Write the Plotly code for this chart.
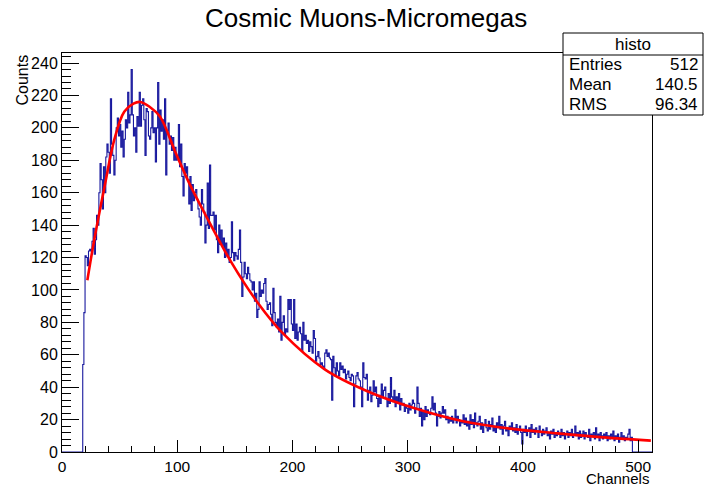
import plotly.graph_objects as go

# ---------------- data ----------------
n_bins = 512
lead_zero_bins = 18          # bins 0..17 empty
counts_18_29 = [54, 86, 121, 120, 115, 124, 125, 124, 130, 138, 122, 131]
counts_30s = [146, 140, 160, 178, 168, 150, 176, 160, 182, 190]
counts_40s = [185, 172, 218, 190, 183, 171, 180, 200, 206, 195]
counts_50s = [202, 188, 198, 182, 193, 205, 200, 222, 203, 208]
counts_60s = [236, 208, 195, 200, 185, 207, 201, 222, 201, 214]
counts_70s = [218, 205, 183, 212, 210, 195, 193, 200, 210, 197]
counts_80s = [200, 179, 200, 228, 190, 211, 198, 205, 193, 218]
counts_90s = [171, 198, 203, 190, 195, 186, 194, 180, 188, 180]
counts_100s = [182, 202, 176, 190, 170, 158, 178, 172, 176, 168]
counts_110s = [153, 170, 149, 165, 155, 160, 162, 156, 150, 145]
counts_120s = [140, 162, 153, 148, 129, 140, 166, 138, 177, 146]
counts_130s = [146, 148, 137, 146, 131, 123, 140, 128, 137, 127]
counts_140s = [132, 120, 129, 121, 125, 117, 120, 142, 123, 118]
counts_150s = [123, 121, 119, 125, 137, 117, 96, 108, 117, 110]
counts_160s = [107, 114, 110, 106, 105, 100, 105, 93, 98, 83]
counts_170s = [88, 105, 96, 100, 98, 104, 107, 93, 88, 91]
counts_180s = [92, 85, 78, 101, 86, 80, 77, 82, 74, 96]
counts_190s = [69, 80, 84, 72, 76, 74, 94, 88, 94, 79]
counts_200s = [75, 94, 70, 79, 69, 74, 77, 73, 62, 80]
counts_210s = [69, 72, 67, 69, 62, 68, 65, 61, 75, 70]
counts_220s = [56, 59, 62, 58, 54, 55, 53, 51, 61, 63]
counts_230s = [59, 61, 58, 57, 32, 59, 52, 47, 55, 50]
counts_240s = [47, 55, 51, 53, 49, 51, 45, 48, 50, 46]
counts_250s = [44, 48, 47, 28, 42, 47, 49, 45, 44, 40]
counts_260s = [28, 55, 46, 45, 48, 32, 38, 40, 31, 35]
counts_270s = [44, 37, 40, 33, 28, 35, 30, 42, 34, 38]
counts_280s = [40, 33, 28, 36, 30, 46, 34, 31, 38, 28]
counts_290s = [34, 30, 36, 26, 33, 29, 30, 25, 28, 27]
counts_300s = [24, 30, 26, 29, 32, 30, 24, 27, 40, 30]
counts_310s = [22, 27, 16, 25, 20, 28, 22, 26, 24, 23]
counts_320s = [27, 34, 26, 30, 24, 16, 22, 25, 21, 24]
counts_330s = [28, 24, 26, 20, 22, 18, 21, 19, 22, 18]
counts_340s = [20, 26, 18, 22, 20, 16, 19, 18, 23, 17]
counts_350s = [21, 16, 19, 14, 23, 17, 20, 15, 24, 18]
counts_360s = [16, 19, 22, 14, 18, 12, 17, 20, 15, 13]
counts_370s = [19, 14, 17, 21, 13, 16, 12, 18, 15, 22]
counts_380s = [14, 17, 11, 16, 19, 13, 15, 10, 16, 14]
counts_390s = [18, 13, 15, 12, 17, 11, 14, 16, 12, 5]
counts_400s = [14, 12, 16, 10, 13, 15, 9, 17, 12, 14]
counts_410s = [11, 15, 13, 9, 16, 12, 10, 14, 11, 13]
counts_420s = [15, 10, 12, 8, 13, 11, 14, 9, 12, 10]
counts_430s = [13, 11, 9, 14, 10, 12, 8, 11, 13, 9]
counts_440s = [12, 10, 14, 9, 11, 16, 10, 12, 8, 13]
counts_450s = [9, 11, 13, 8, 12, 10, 9, 14, 7, 11]
counts_460s = [10, 12, 8, 15, 9, 11, 7, 12, 10, 8]
counts_470s = [11, 9, 12, 7, 10, 8, 11, 9, 13, 7]
counts_480s = [10, 8, 11, 6, 9, 12, 8, 10, 7, 9]
counts_490_494 = [8, 11, 14, 7, 9]

# fit curve, read at a set of channels
fit_x = [22, 28, 37, 45.5, 54, 62, 68, 76, 85, 99, 111, 124, 147, 170, 192,
         228, 265, 306, 348, 389, 430, 470, 511]
fit_y = [106, 131, 164, 193, 210, 215, 216, 213, 207, 184, 165, 147, 117, 92, 73,
         51, 37.5, 27, 19, 14.4, 11.5, 9, 7]

stats_name = "histo"
stats_labels = ["Entries", "Mean", "RMS"]
stats_values = ["512", "140.5", "96.34"]

# ---------------- assemble histogram ----------------
body = (counts_18_29 + counts_30s + counts_40s + counts_50s + counts_60s + counts_70s
        + counts_80s + counts_90s + counts_100s + counts_110s + counts_120s + counts_130s
        + counts_140s + counts_150s + counts_160s + counts_170s + counts_180s + counts_190s
        + counts_200s + counts_210s + counts_220s + counts_230s + counts_240s + counts_250s
        + counts_260s + counts_270s + counts_280s + counts_290s + counts_300s + counts_310s
        + counts_320s + counts_330s + counts_340s + counts_350s + counts_360s + counts_370s
        + counts_380s + counts_390s + counts_400s + counts_410s + counts_420s + counts_430s
        + counts_440s + counts_450s + counts_460s + counts_470s + counts_480s + counts_490_494)
counts = [0] * lead_zero_bins + body
counts = counts + [0] * (n_bins - len(counts))
edges = list(range(n_bins + 1))
step_y = counts + [counts[-1]]

# ---------------- layout geometry ----------------
W, H = 704, 489
L, R, T, B = 62, 52, 53, 37
pw, ph = W - L - R, H - T - B

def px(xp):
    return (xp - L) / pw

def py(yp):
    return (H - B - yp) / ph

FONT = "Liberation Sans, Arial, sans-serif"

fig = go.Figure()
fig.add_trace(go.Scatter(x=edges, y=step_y, mode="lines", line_shape="hv",
                         line=dict(color="rgb(24,24,158)", width=1.1),
                         hoverinfo="skip", showlegend=False))
fig.add_trace(go.Scatter(x=fit_x, y=fit_y, mode="lines", line_shape="spline",
                         line=dict(color="rgb(255,0,0)", width=2.6),
                         hoverinfo="skip", showlegend=False))

axis_common = dict(showline=True, linecolor="black", linewidth=1, mirror=True,
                   ticks="inside", tickcolor="black", tickwidth=1,
                   showgrid=False, zeroline=False)

fig.update_xaxes(range=[0, 512], dtick=100, tick0=0, ticklen=12,
                 tickfont=dict(family=FONT, size=15.5, color="black"),
                 minor=dict(ticks="inside", dtick=20, ticklen=6, tickcolor="black", showgrid=False),
                 **axis_common)
fig.update_yaxes(range=[0, 246.2], dtick=20, tick0=0, ticklen=17,
                 tickfont=dict(family=FONT, size=16, color="black"),
                 minor=dict(ticks="inside", dtick=4, ticklen=9, tickcolor="black", showgrid=False),
                 **axis_common)

annotations = [
    dict(text="Cosmic Muons-Micromegas", x=px(366), y=py(18), xref="paper", yref="paper",
         xanchor="center", yanchor="middle", showarrow=False,
         font=dict(family=FONT, size=26, color="black")),
    dict(text="Channels", x=px(651), y=py(489), xref="paper", yref="paper",
         xanchor="right", yanchor="bottom", showarrow=False,
         font=dict(family=FONT, size=15, color="black")),
    dict(text="Counts", x=px(22), y=py(53), xref="paper", yref="paper", textangle=-90,
         xanchor="center", yanchor="top", showarrow=False,
         font=dict(family=FONT, size=16, color="black")),
    dict(text=stats_name, x=px(633), y=py(44), xref="paper", yref="paper",
         xanchor="center", yanchor="middle", showarrow=False,
         font=dict(family=FONT, size=17, color="black")),
]
row_y = [64, 84, 104]
for lab, val, ry in zip(stats_labels, stats_values, row_y):
    annotations.append(dict(text=lab, x=px(567), y=py(ry), xref="paper", yref="paper",
                            xanchor="left", yanchor="middle", showarrow=False,
                            font=dict(family=FONT, size=17, color="black")))
    annotations.append(dict(text=val, x=px(700), y=py(ry), xref="paper", yref="paper",
                            xanchor="right", yanchor="middle", showarrow=False,
                            font=dict(family=FONT, size=17, color="black")))

shapes = [
    dict(type="rect", xref="paper", yref="paper", x0=px(563), x1=px(703), y0=py(115), y1=py(33),
         line=dict(color="black", width=1), fillcolor="white", layer="above"),
    dict(type="line", xref="paper", yref="paper", x0=px(563), x1=px(703), y0=py(55), y1=py(55),
         line=dict(color="black", width=1), layer="above"),
]

fig.update_layout(width=W, height=H, margin=dict(l=L, r=R, t=T, b=B, pad=0),
                  paper_bgcolor="white", plot_bgcolor="white",
                  annotations=annotations, shapes=shapes, showlegend=False)

fig.write_html("out.html")
